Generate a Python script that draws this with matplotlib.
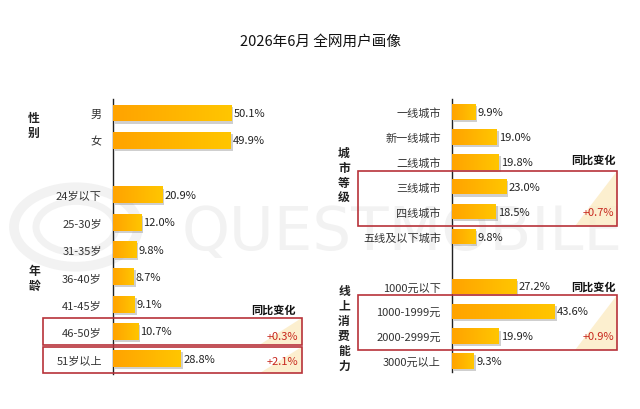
import matplotlib
matplotlib.use('Agg')
import matplotlib.pyplot as plt
import numpy as np
from matplotlib.colors import LinearSegmentedColormap
from matplotlib.patches import Rectangle, Polygon, Circle
import matplotlib.patheffects as pe
from matplotlib.transforms import blended_transform_factory

plt.rcParams['font.family'] = ['Noto Sans CJK SC', 'DejaVu Sans']

# ---------------- data ----------------
title = "2026年6月 全网用户画像"
gender_group = "性别"
gender_labels = ["男", "女"]
gender_values = [50.1, 49.9]
age_group = "年龄"
age_labels = ["24岁以下", "25-30岁", "31-35岁", "36-40岁", "41-45岁", "46-50岁", "51岁以上"]
age_values = [20.9, 12.0, 9.8, 8.7, 9.1, 10.7, 28.8]
city_group = "城市等级"
city_labels = ["一线城市", "新一线城市", "二线城市", "三线城市", "四线城市", "五线及以下城市"]
city_values = [9.9, 19.0, 19.8, 23.0, 18.5, 9.8]
spend_group = "线上消费能力"
spend_labels = ["1000元以下", "1000-1999元", "2000-2999元", "3000元以上"]
spend_values = [27.2, 43.6, 19.9, 9.3]
yoy_title = "同比变化"
age_yoy = ["+0.3%", "+2.1%"]      # 46-50岁, 51岁以上
city_yoy = "+0.7%"                 # 三线+四线城市
spend_yoy = "+0.9%"                # 1000-2999元
watermark = "QUESTMOBILE"

# ---------------- layout ----------------
W, H = 640, 410
fig = plt.figure(figsize=(W / 100, H / 100), dpi=100)
fig.patch.set_facecolor('white')

def fx(px):
    return px / W

def fy(py):
    return 1 - py / H

PX_PER_PCT = 2.36
RED = '#B8323A'
RED_TXT = '#C8281E'

# faint watermark, behind everything
wm_color = '#F2F2F2'
fig.patches.append(Circle((fx(76), fy(228)), 62 / W, transform=fig.transFigure,
                          fill=False, edgecolor=wm_color, lw=7, zorder=-5))
fig.patches.append(Circle((fx(76), fy(228)), 40 / W, transform=fig.transFigure,
                          fill=False, edgecolor=wm_color, lw=5, zorder=-5))
fig.text(fx(402), fy(234), watermark, ha='center', va='center', fontsize=44,
         color=wm_color, family='DejaVu Sans', zorder=-5)

fig.text(0.5, fy(42), title, ha='center', va='center', fontsize=10.5, color='#111111')

cmap = LinearSegmentedColormap.from_list('bar', ['#FFA300', '#FFB400', '#FFC600'])
grad = np.linspace(0, 1, 256).reshape(1, -1)

left_pos = [0, 1, 3, 4, 5, 6, 7, 8, 9]
right_pos = [0, 1, 2, 3, 4, 5, 7, 8, 9, 10]

axL = fig.add_axes([fx(113), fy(375), (300 - 113) / W, 275 / H])
axR = fig.add_axes([fx(452), fy(373), (622 - 452) / W, 273 / H])


def draw_bars(ax, pos, vals, labels, xmax, ylim):
    ax.patch.set_alpha(0)
    bars = ax.barh(pos, vals, height=0.62, color='#FFB000', edgecolor='none', zorder=2)
    for b in bars:
        b.set_path_effects([pe.SimplePatchShadow(offset=(1.5, -1.5), shadow_rgbFace='#777777', alpha=0.35),
                            pe.Normal()])
        x0, y0 = b.get_x(), b.get_y()
        w, h = b.get_width(), b.get_height()
        im = ax.imshow(grad, extent=[x0, x0 + w, y0, y0 + h], cmap=cmap, aspect='auto',
                       zorder=3, interpolation='bilinear')
        im.set_clip_path(b)
    for p, v in zip(pos, vals):
        ax.text(v + 0.9, p, f"{v:.1f}%", va='center', ha='left', fontsize=8, color='#222222', zorder=4)
    ax.set_yticks(pos)
    ax.set_yticklabels(labels)
    ax.tick_params(axis='y', length=0, pad=8, labelsize=8, labelcolor='#333333')
    ax.set_xticks([])
    for s in ['top', 'right', 'bottom']:
        ax.spines[s].set_visible(False)
    ax.spines['left'].set_color('#222222')
    ax.spines['left'].set_linewidth(1.0)
    ax.set_xlim(0, xmax)
    ax.set_ylim(*ylim)


draw_bars(axL, left_pos, gender_values + age_values, gender_labels + age_labels,
          187 / PX_PER_PCT, (9.56, -0.513))
draw_bars(axR, right_pos, city_values + spend_values, city_labels + spend_labels,
          170 / PX_PER_PCT, (10.44, -0.522))

# group labels (vertical)
def vlabel(x, y, s, spacing):
    fig.text(fx(x), fy(y), "\n".join(s), ha='center', va='center', fontsize=8.5,
             fontweight='bold', color='#222222', linespacing=spacing)

vlabel(34, 126, gender_group, 1.15)
vlabel(34, 279, age_group, 1.15)
vlabel(344, 176, city_group, 1.2)
vlabel(344, 329, spend_group, 1.2)


def box(ax, x0px, x1px, ytop, ybot):
    tr = blended_transform_factory(fig.transFigure, ax.transData)
    tri = Polygon([(fx(x1px), ybot), (fx(x1px), ytop), (fx(x1px - 42), ybot)], closed=True,
                  transform=tr, facecolor='#FCEBC4', edgecolor='none', alpha=0.8,
                  clip_on=False, zorder=1)
    ax.add_patch(tri)
    r = Rectangle((fx(x0px), ytop), fx(x1px) - fx(x0px), ybot - ytop, transform=tr,
                  fill=False, edgecolor=RED, lw=1.2, clip_on=False, zorder=5)
    ax.add_patch(r)


def note(ax, xpx, y, s, color, bold=False):
    tr = blended_transform_factory(fig.transFigure, ax.transData)
    ax.text(fx(xpx), y, s, transform=tr, ha='right', va='center', fontsize=8,
            color=color, fontweight='bold' if bold else 'normal', clip_on=False, zorder=6)

# left boxes: 46-50岁 (slot 8), 51岁以上 (slot 9)
box(axL, 43, 302, 7.5, 8.48)
box(axL, 43, 302, 8.56, 9.52)
note(axL, 296, 7.18, yoy_title, '#111111', bold=True)
note(axL, 298, 8.15, age_yoy[0], RED_TXT)
note(axL, 298, 9.1, age_yoy[1], RED_TXT)

# right boxes
box(axR, 358, 617, 2.37, 4.58)
box(axR, 358, 617, 7.35, 9.56)
note(axR, 616, 1.9, yoy_title, '#111111', bold=True)
note(axR, 614, 4.02, city_yoy, RED_TXT)
note(axR, 616, 6.99, yoy_title, '#111111', bold=True)
note(axR, 614, 9.0, spend_yoy, RED_TXT)

fig.savefig('out.png', dpi=100, facecolor='white')
